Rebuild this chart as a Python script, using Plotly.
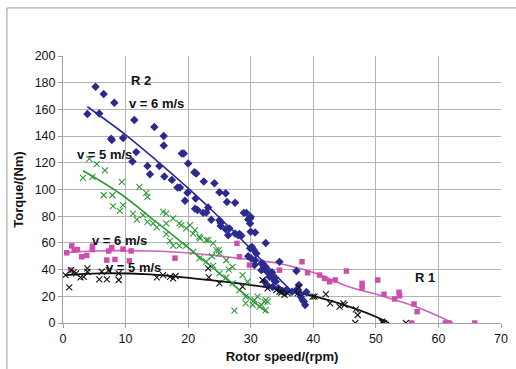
import plotly.graph_objects as go

# ---------------- data ----------------
# R2, v = 6 m/s (blue diamonds)
r2v6_x = [5.2, 6.5, 8.2, 3.9, 5.8, 11.4, 7.7, 7.8, 9.6, 14.6, 16.1, 16.1, 11.7, 11.1, 13.5, 15.4,
          13.9, 16.2, 17.4, 19.0, 19.3, 20.0, 21.0, 21.3, 22.5, 18.3, 18.7, 19.9, 24.2, 25.0, 26.0,
          19.5, 21.2, 21.1, 21.5, 23.2, 26.2, 27.5, 28.9, 29.3, 22.9, 23.7, 25.0, 25.2, 29.6, 26.0,
          27.5, 28.2, 26.4, 30.7, 22.4, 25.2, 29.9, 29.9, 26.6, 28.0, 28.5, 32.4, 29.9, 30.5,
          30.1, 30.7, 30.6, 31.9, 32.4, 31.7, 32.6, 33.0, 33.7, 34.0, 34.6, 32.2, 32.6, 33.5,
          34.4, 35.6, 36.6, 37.8, 38.3, 38.7, 30.0, 30.0, 30.2, 31.7, 32.2, 33.4, 33.8, 34.7,
          35.1, 35.7, 37.3, 37.7, 37.3, 37.7, 38.0, 38.5, 38.9, 29.6, 30.9]
r2v6_y = [177, 171.5, 165, 156.5, 157, 152, 138, 137, 138.6, 146.8, 140, 133, 128, 121, 117.6, 117.6,
          111.4, 109.7, 107.2, 127, 127, 119.4, 113, 112, 106, 101.5, 101.5, 97.5, 104.7, 98, 97.2,
          91.5, 93.3, 85.6, 84.6, 86.5, 90.7, 90, 82.5, 82.5, 82.8, 77.3, 77, 72.7, 77.6, 70.3,
          67, 66.6, 65.8, 67.8, 82.5, 75, 78.3, 74.6, 70.8, 65.8, 65.3, 60, 56, 54.6,
          48.4, 47, 43.4, 44.6, 42, 39.6, 38.4, 34.6, 33.4, 31, 45.8, 31, 28.4, 27,
          26, 23.4, 23.4, 22.2, 17.2, 13.5, 79.5, 68.3, 57, 44.6, 42.6, 38, 31.6, 24.7,
          24, 24.7, 39, 28.4, 24.7, 22.7, 19.7, 16, 23.2, 50, 52]

# R2, v = 5 m/s (green crosses)
r2v5_x = [4.2, 5.4, 6.7, 3.2, 4.7, 9.4, 12.2, 13.3, 13.5, 6.5, 7.9, 8.0, 9.6, 9.1, 11.2, 11.8,
          12.8, 13.5, 14.4, 15.0, 16.0, 16.5, 16.5, 17.6, 18.6, 16.5, 17.1, 17.6, 18.6, 19.7, 20.8,
          21.8, 22.9, 24.0, 19.7, 20.8, 21.8, 22.9, 24.0, 24.5, 25.0, 26.1, 27.1, 25.0, 26.1, 27.1,
          28.2, 29.2, 27.4, 28.7, 29.5, 29.2, 30.3, 18.9, 20.3, 21.1, 21.9, 23.2, 24.9, 31.1,
          32.4, 31.4, 32.4, 30.6, 32.2, 32.7, 31.7, 23.8, 26.5]
r2v5_y = [123, 119, 114.4, 108.7, 109.4, 105.7, 102, 97.5, 94.5, 95.7, 95.7, 87.5, 88.3, 84, 82, 77.5,
          80.8, 75.8, 74.6, 71.6, 83.3, 82, 74.6, 78.3, 74.6, 66.5, 61.5, 58, 58, 70.8, 67,
          64.6, 62, 59.6, 58, 53.3, 48.4, 45.9, 43, 54.6, 52.1, 47, 42, 37.2, 34.2, 29.7,
          24.7, 19.7, 9.2, 35.9, 30.9, 14.7, 13.5, 73.3, 73.3, 69.6, 63.4, 62, 54.6, 19.7,
          17.2, 12.2, 9.7, 17.2, 16, 16, 13.5, 50, 40]

# R1, v = 6 m/s (magenta squares)
r1v6_x = [0.6, 1.4, 1.8, 2.3, 3.0, 3.8, 4.7, 4.7, 7.3, 7.8, 7.0, 8.3, 9.6, 10.9, 10.6, 17.9,
          27.8, 28.2, 29.8, 34.6, 38.2, 39.1, 41.0, 41.8, 42.6, 43.5, 45.3, 47.8, 47.8, 50.3,
          51.3, 53.0, 53.7, 53.8, 56.1, 56.6, 55.7, 61.1, 61.7, 65.8, 1.2]
r1v6_y = [52.6, 57.8, 54.6, 55, 49.6, 50.6, 57.6, 55, 53.9, 56.6, 47.1, 47.6, 55.3, 54, 46.6, 48.6,
          59.6, 49.6, 43.4, 39.6, 45.9, 37.6, 35.9, 33.4, 30.9, 32.2, 38.9, 29.7, 26.2, 32.2,
          21.5, 18, 23, 20.4, 14.2, 8.5, 0, 0, 0, 0, 39.6]

# R1, v = 5 m/s (black crosses)
r1v5_x = [0.4, 1.0, 1.3, 1.7, 2.1, 2.8, 3.3, 3.9, 3.9, 5.8, 7.0, 6.2, 7.3, 8.9, 8.9, 15.0,
          16.0, 17.1, 17.6, 18.0, 23.2, 23.3, 25.0, 28.7, 31.9, 32.7, 34.6, 35.4, 35.9, 37.7,
          37.5, 40.2, 34.1, 34.9, 39.9, 42.0, 42.7, 44.2, 44.8, 45.0, 46.8, 47.1, 46.7, 51.0,
          51.3, 54.8, 51.0]
r1v5_y = [35.9, 26.7, 39.6, 37.9, 37.2, 34.2, 34.6, 40.9, 38.4, 32.7, 32.7, 38.4, 39.6, 32.2, 37.2, 34.2,
          35.9, 34.6, 33.4, 35.2, 40.9, 34.2, 29.7, 27.2, 32.2, 26, 23.4, 21, 22.2, 26.7,
          22.2, 19.7, 24.7, 22.7, 19.7, 21.7, 14.7, 12.2, 14.7, 13.5, 10.2, 6, 0, 0.5,
          0, 0, 1]

# trend lines
r2v6_trend_x = [3.9, 10, 15, 20, 25, 30, 35, 37.0]
r2v6_trend_y = [162, 141, 121.5, 101, 79, 55.5, 31, 22]
r2v5_trend_x = [3.2, 9.1, 15, 20, 25, 30, 32.7]
r2v5_trend_y = [114, 97, 75.3, 56.5, 37.2, 17.8, 7.5]
r1v6_trend_x = [0.4, 4.9, 13.9, 19.7, 29.8, 34.6, 40.4, 45.7, 51.0, 56.4, 59.6, 62.3]
r1v6_trend_y = [52.6, 53.9, 53.9, 52.6, 47.5, 44.6, 37.2, 27.2, 20.2, 12.2, 6, 0]
r1v5_trend_x = [0.4, 5.9, 13.9, 20.8, 29.8, 35.1, 40.4, 45.7, 50.0, 52.1]
r1v5_trend_y = [35.9, 37.2, 36.4, 33.4, 28.6, 24.7, 19.7, 12.2, 4.7, 0]

x_ticks = [0, 10, 20, 30, 40, 50, 60, 70]
y_ticks = [0, 20, 40, 60, 80, 100, 120, 140, 160, 180, 200]

labels_text = ["R 2", "v = 6 m/s", "v = 5 m/s", "v = 6 m/s", "v = 5 m/s", "R 1"]
labels_x = [12.5, 15.0, 6.7, 9.0, 11.3, 57.8]
labels_y = [181.7, 164.5, 126.0, 62.0, 41.7, 34.2]

# ---------------- styles ----------------
BLUE = "#2b2b8f"
GREEN = "#2e9a3a"
MAGENTA = "#cc4fae"
MAG_LINE = "#c864b8"
BLACK = "#111111"
FONT = "Liberation Sans, Arial, sans-serif"

fig = go.Figure()

fig.add_trace(go.Scatter(x=r2v6_trend_x, y=r2v6_trend_y, mode="lines",
                         line=dict(color=BLUE, width=1.6, shape="spline")))
fig.add_trace(go.Scatter(x=r2v5_trend_x, y=r2v5_trend_y, mode="lines",
                         line=dict(color=GREEN, width=1.6, shape="spline")))
fig.add_trace(go.Scatter(x=r1v6_trend_x, y=r1v6_trend_y, mode="lines",
                         line=dict(color=MAG_LINE, width=1.6, shape="spline")))
fig.add_trace(go.Scatter(x=r1v5_trend_x, y=r1v5_trend_y, mode="lines",
                         line=dict(color=BLACK, width=1.8, shape="spline")))

fig.add_trace(go.Scatter(x=r2v6_x, y=r2v6_y, mode="markers",
                         marker=dict(symbol="diamond", size=6.5, color=BLUE)))
fig.add_trace(go.Scatter(x=r2v5_x, y=r2v5_y, mode="markers",
                         marker=dict(symbol="x-thin", size=6, line=dict(color=GREEN, width=1.1))))
fig.add_trace(go.Scatter(x=r1v6_x, y=r1v6_y, mode="markers",
                         marker=dict(symbol="square", size=5.5, color=MAGENTA)))
fig.add_trace(go.Scatter(x=r1v5_x, y=r1v5_y, mode="markers",
                         marker=dict(symbol="x-thin", size=6, line=dict(color=BLACK, width=1.1))))

for t, x, y in zip(labels_text, labels_x, labels_y):
    fig.add_annotation(x=x, y=y, text="<b>%s</b>" % t, showarrow=False,
                       font=dict(family=FONT, size=13, color="#111111"))

# outer frame (left and top edges visible in the reference)
fig.add_shape(type="line", xref="paper", yref="paper", x0=-0.128, x1=1.1, y0=1.18, y1=1.18,
              line=dict(color="#9a9a9a", width=1))
fig.add_shape(type="line", xref="paper", yref="paper", x0=-0.128, x1=-0.128, y0=-0.2, y1=1.18,
              line=dict(color="#9a9a9a", width=1))

axis_font = dict(family=FONT, size=12.5, color="#111111")
fig.update_layout(
    width=516, height=369,
    margin=dict(l=63, r=15, t=56, b=46),
    paper_bgcolor="white", plot_bgcolor="white",
    showlegend=False,
    font=axis_font,
    xaxis=dict(range=[0, 70], tickvals=x_ticks, showgrid=True, gridcolor="#b4b4b4", gridwidth=1,
               zeroline=False, showline=True, linecolor="#a0a0a0", ticks="outside", ticklen=4,
               tickcolor="#a0a0a0", tickfont=axis_font, automargin=False,
               title=dict(text="<b>Rotor speed/(rpm)</b>", font=dict(family=FONT, size=13),
                          standoff=6)),
    yaxis=dict(range=[0, 200], tickvals=y_ticks, showgrid=True, gridcolor="#b4b4b4", gridwidth=1,
               zeroline=False, showline=True, linecolor="#a0a0a0", ticks="outside", ticklen=4,
               tickcolor="#a0a0a0", tickfont=axis_font, automargin=False,
               title=dict(text="<b>Torque/(Nm)</b>", font=dict(family=FONT, size=13),
                          standoff=8)),
)

fig.write_html("out.html", config={"displayModeBar": False},
               post_script="document.body.style.margin='0px';")
